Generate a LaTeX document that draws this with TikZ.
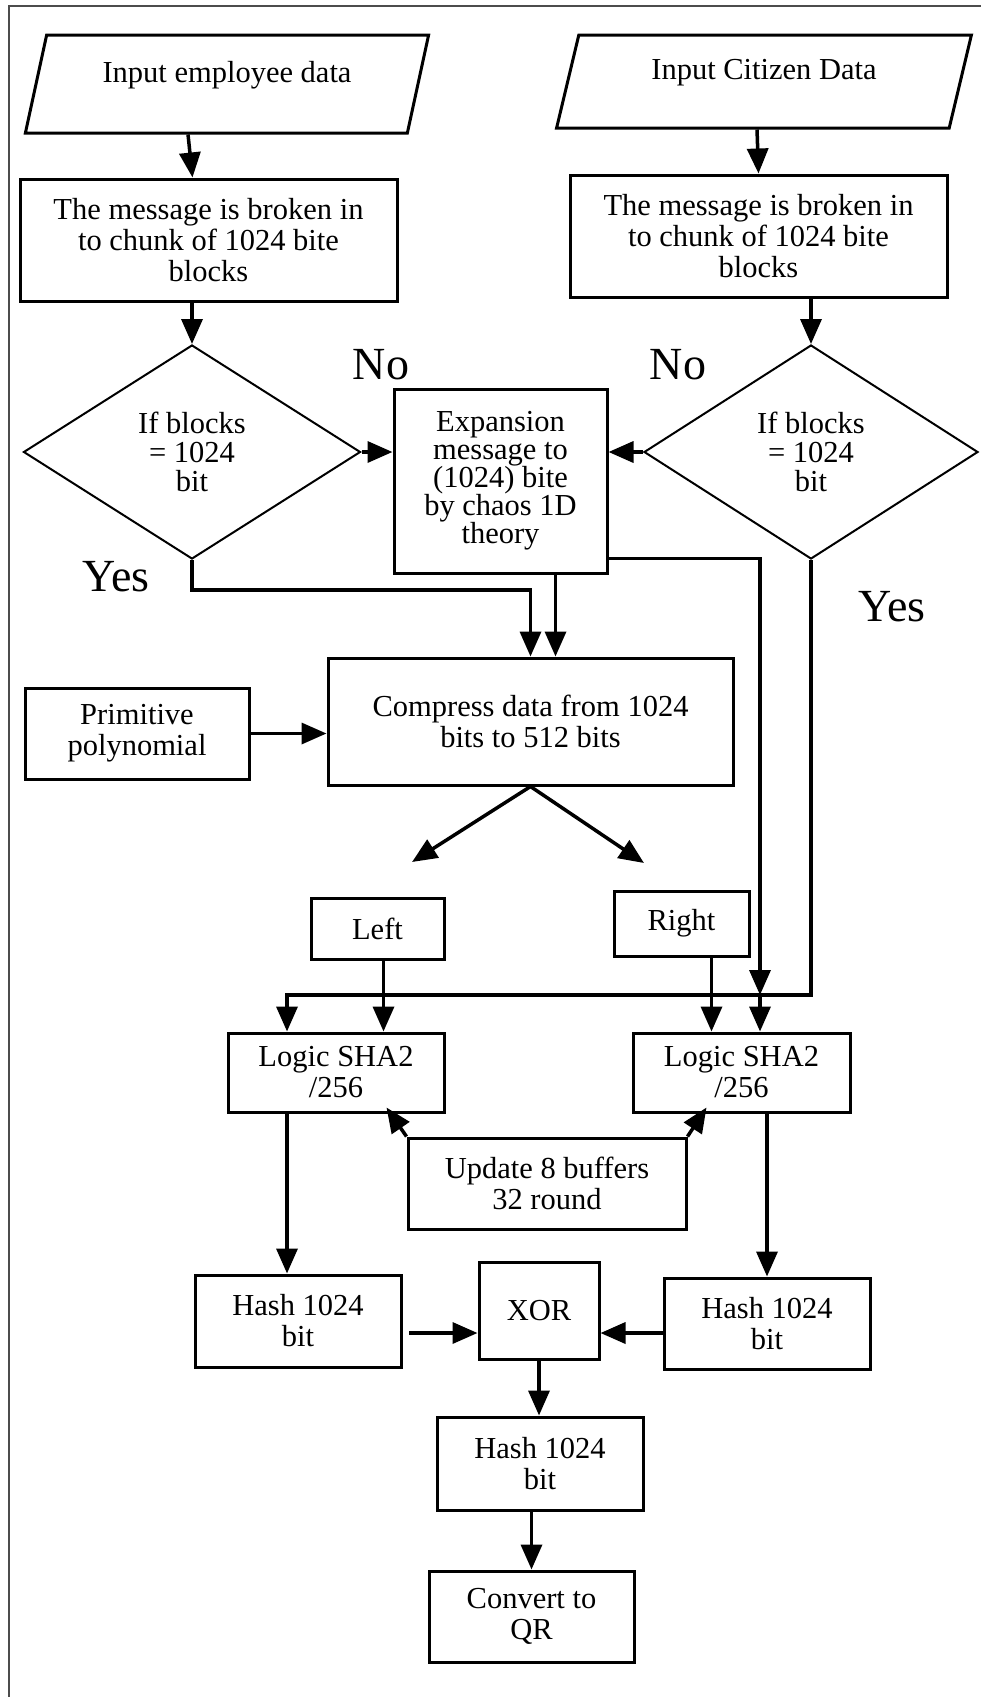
\documentclass[tikz,border=0pt]{standalone}
\usepackage{fontspec}
\setmainfont{Liberation Serif}
\usetikzlibrary{shapes.geometric,arrows.meta}
\tikzset{box/.style={draw, line width=3pt, align=center, inner sep=0pt,
   font=\fontsize{30.5}{31}\selectfont},
 decision/.style={draw, diamond, line width=2pt, align=center, inner sep=0pt,
   font=\fontsize{30.5}{29}\selectfont},
 inbox/.style={draw, trapezium, trapezium stretches=true, line width=3pt,
   align=center, inner sep=0pt, text depth=24pt, font=\fontsize{30.5}{31}\selectfont},
 arr/.style={-{Triangle[length=25pt,width=21pt]}, line width=3.5pt},
 answer/.style={font=\fontsize{46}{46}\selectfont},
 }

\begin{document}
\begin{tikzpicture}[x=1pt,y=-1pt]
        \useasboundingbox (0,0) rectangle (981,1697);
        \draw[line width=2pt, black!70] (9,1697) -- (9,6) -- (981,6);

        \node[inbox, trapezium left angle=72, trapezium right angle=108,
              minimum width=404pt, minimum height=98pt] (inL) at (227,84) {Input employee data};
        \node[inbox, trapezium left angle=73, trapezium right angle=107,
              minimum width=416pt, minimum height=93pt] (inR) at (764,81.5) {Input Citizen Data};
        \node[box, minimum width=377pt, minimum height=122pt] (msgL) at (208.5,240)
            {The message is broken in\\to chunk of 1024 bite\\blocks};
        \node[box, minimum width=377pt, minimum height=122pt] (msgR) at (758.5,236)
            {The message is broken in\\to chunk of 1024 bite\\blocks};
        \node[decision, minimum width=337pt, minimum height=214pt] (dL) at (192,452) {If blocks\\= 1024\\bit};
        \node[decision, minimum width=334pt, minimum height=214pt] (dR) at (811,452) {If blocks\\= 1024\\bit};
        \node[box, minimum width=213pt, minimum height=184pt, font=\fontsize{30.5}{28}\selectfont] (exp) at (500.5,481)
            {Expansion\\message to\\(1024) bite\\by chaos 1D\\theory};
        \node[box, minimum width=405pt, minimum height=127pt] (comp) at (530.5,721.5)
            {Compress data from 1024\\bits to 512 bits};
        \node[box, minimum width=224pt, minimum height=91pt] (prim) at (137,733.5) {Primitive\\polynomial};
        \node[box, minimum width=133pt, minimum height=61pt] (left) at (377.5,928.5) {Left};
        \node[box, minimum width=135pt, minimum height=65pt] (right) at (681.5,923.5) {Right};
        \node[box, minimum width=216pt, minimum height=79pt] (logL) at (336,1072.5) {Logic SHA2\\/256};
        \node[box, minimum width=217pt, minimum height=79pt] (logR) at (741.5,1072.5) {Logic SHA2\\/256};
        \node[box, minimum width=278pt, minimum height=91pt] (upd) at (547,1183.5) {Update 8 buffers\\32 round};
        \node[box, minimum width=206pt, minimum height=92pt] (hashL) at (298,1321) {Hash 1024\\bit};
        \node[box, minimum width=206pt, minimum height=91pt] (hashR) at (767,1323.5) {Hash 1024\\bit};
        \node[box, minimum width=120pt, minimum height=97pt] (xor) at (539,1310.5) {XOR};
        \node[box, minimum width=206pt, minimum height=93pt] (hashB) at (540,1463.5) {Hash 1024\\bit};
        \node[box, minimum width=205pt, minimum height=91pt] (conv) at (531.5,1616.5) {Convert to\\QR};

        \node[answer] (noL) at (381,365) {No};
        \node[answer] (noR) at (678,365) {No};
        \node[answer] (yesL) at (116,577) {Yes};
        \node[answer] (yesR) at (892,607) {Yes};

        \coordinate (expOut) at ([xshift=55pt]exp.south);
        \coordinate (rOut) at ([xshift=30pt]right.south);
        \coordinate (jL) at (287,995);
        \coordinate (jR) at (760,995);
        \coordinate (splitL) at (412,862);
        \coordinate (splitR) at (644,863);
        \coordinate (xin) at (409,1333);

        \draw[arr] ([xshift=-39pt]inL.south) -- ([xshift=-16pt]msgL.north);
        \draw[arr] ([xshift=-7pt]inR.south) -- (msgR.north);
        \draw[arr] (msgL.south -| dL.north) -- (dL.north);
        \draw[arr] (msgR.south -| dR.north) -- (dR.north);
        \draw[arr] (dL.east) -- (dL.east -| exp.west);
        \draw[arr] (dR.west) -- (dR.west -| exp.east);
        \draw[arr] (dL.south) -- ++(0,30) -| (comp.north);
        \draw[arr] (expOut) -- (expOut |- comp.north);
        \draw[arr] ([yshift=16pt]exp.south east) -| (jR);
        \draw[arr] (dR.south) |- (jL) -- (jL |- logL.north);
        \draw[arr] (jR) -- (jR |- logR.north);
        \draw[arr] (prim.east) -- (prim.east -| comp.west);
        \draw[arr] (comp.south) -- (splitL);
        \draw[arr] (comp.south) -- (splitR);
        \draw[arr] ([xshift=6pt]left.south) -- ([xshift=6pt]left.south |- logL.north);
        \draw[arr] (rOut) -- (rOut |- logR.north);
        \draw[arr] (upd.north west) -- ([xshift=-59pt,yshift=6pt]logL.south east);
        \draw[arr] (upd.north east) -- ([xshift=75pt,yshift=6pt]logR.south west);
        \draw[arr] (jL |- logL.south) -- (jL |- hashL.north);
        \draw[arr] (hashR.north |- logR.south) -- (hashR.north);
        \draw[arr] (xin) -- (xin -| xor.west);
        \draw[arr] (hashR.west |- xin) -- (xor.east |- xin);
        \draw[arr] (xor.south) -- (xor.south |- hashB.north);
        \draw[arr] (conv.north |- hashB.south) -- (conv.north);
    \end{tikzpicture}
\end{document}
